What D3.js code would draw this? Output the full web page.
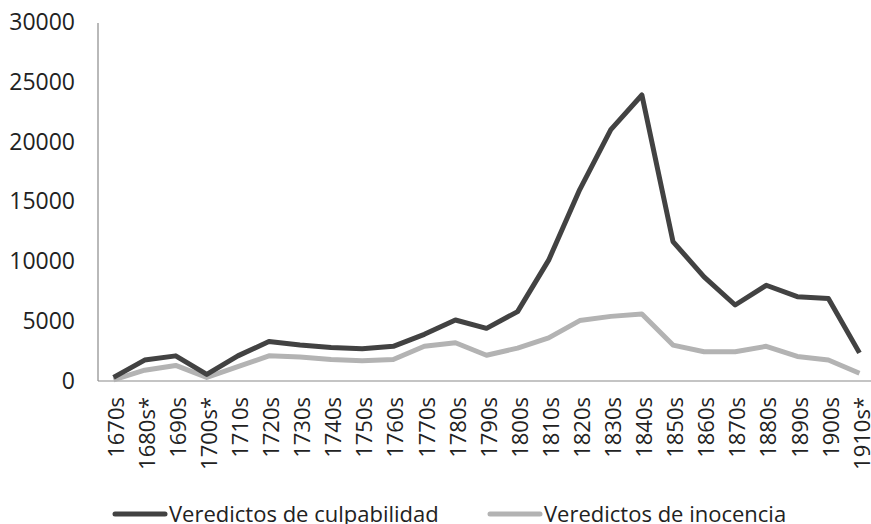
<!DOCTYPE html>
<html>
<head>
<meta charset="utf-8">
<script src="https://cdn.jsdelivr.net/npm/d3@7"></script>
<style>
  body { margin: 0; background: #fff; }
  text { font-family: "Open Sans", sans-serif; fill: #222; }
</style>
</head>
<body>
<script>
var canvasWidth = 871;
var canvasHeight = 524;

// decades on the x axis
var decades = ['1670s', '1680s*', '1690s', '1700s*', '1710s', '1720s', '1730s', '1740s',
    '1750s', '1760s', '1770s', '1780s', '1790s', '1800s', '1810s', '1820s', '1830s',
    '1840s', '1850s', '1860s', '1870s', '1880s', '1890s', '1900s', '1910s*'];

var culpabilidad = [300, 1750, 2100, 550, 2100, 3300, 3000, 2800, 2700, 2900, 3900, 5100,
    4400, 5800, 10100, 16000, 21000, 23900, 11650, 8700, 6350, 8000, 7050, 6900, 2350];

var inocencia = [100, 900, 1300, 300, 1200, 2100, 2000, 1800, 1700, 1800, 2900, 3200,
    2150, 2750, 3600, 5050, 5400, 5600, 3000, 2450, 2450, 2900, 2050, 1750, 650];

var yTicks = [0, 5000, 10000, 15000, 20000, 25000, 30000];

var legendNames = ['Veredictos de culpabilidad', 'Veredictos de inocencia'];
var colors = ['#424242', '#b3b3b3'];

var svg = d3.select('body')
    .append('svg')
    .attr('width', canvasWidth)
    .attr('height', canvasHeight);

var plotLeft = 98, plotRight = 875, plotTop = 22, plotBottom = 381;

var xScale = d3.scalePoint()
    .domain(decades)
    .range([plotLeft, plotRight])
    .padding(0.5);

var yScale = d3.scaleLinear()
    .domain([0, 30000])
    .range([plotBottom, plotTop]);

// y axis
var yAxis = svg.append('g')
    .attr('transform', 'translate(' + plotLeft + ',0)')
    .call(d3.axisLeft(yScale).tickValues(yTicks).tickFormat(d3.format('d')).tickSize(0).tickPadding(23));
yAxis.select('.domain').attr('stroke', '#8a8a8a').attr('stroke-width', 1.2).attr('d', 'M0,' + (plotTop + 1) + 'V' + plotBottom);
yAxis.selectAll('text')
    .attr('font-family', '"Open Sans", sans-serif')
    .attr('font-size', '23px')
    .attr('fill', '#222');

// x axis
var xAxis = svg.append('g')
    .attr('transform', 'translate(0,' + plotBottom + ')')
    .call(d3.axisBottom(xScale).tickSize(0).tickPadding(0));
xAxis.select('.domain').attr('stroke', '#8a8a8a').attr('stroke-width', 1.2).attr('d', 'M' + plotLeft + ',0H' + plotRight);
xAxis.selectAll('text')
    .attr('font-family', '"Open Sans", sans-serif')
    .attr('font-size', '22px')
    .attr('fill', '#222')
    .attr('text-anchor', 'end')
    .attr('transform', 'rotate(-90)')
    .attr('x', -16)
    .attr('y', 2)
    .attr('dy', '0.35em');

// lines
var line = function (values) {
    return d3.line()
        .x(function (d, i) { return xScale(decades[i]); })
        .y(function (d) { return yScale(d); })(values);
};

svg.append('path')
    .attr('d', line(inocencia))
    .attr('fill', 'none')
    .attr('stroke', colors[1])
    .attr('stroke-width', 5)
    .attr('stroke-linejoin', 'round');

svg.append('path')
    .attr('d', line(culpabilidad))
    .attr('fill', 'none')
    .attr('stroke', colors[0])
    .attr('stroke-width', 5)
    .attr('stroke-linejoin', 'round');

// legend
var legendX = [115, 490];
legendNames.forEach(function (name, i) {
    var g = svg.append('g').attr('transform', 'translate(' + legendX[i] + ',514)');
    g.append('line')
        .attr('x1', 0).attr('x2', 50)
        .attr('y1', 0).attr('y2', 0)
        .attr('stroke', colors[i])
        .attr('stroke-width', 5)
        .attr('stroke-linecap', 'round');
    g.append('text')
        .attr('x', 54)
        .attr('y', 0)
        .attr('dy', '0.35em')
        .attr('font-size', '22px')
        .text(name);
});
</script>
</body>
</html>
